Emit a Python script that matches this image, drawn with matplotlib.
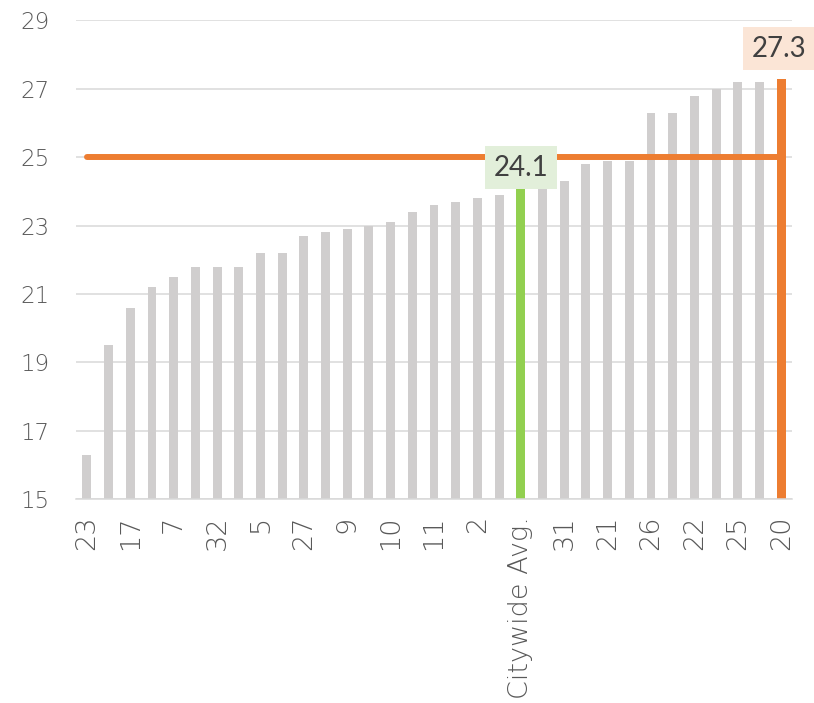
import matplotlib
matplotlib.use("Agg")
import matplotlib.pyplot as plt
import numpy as np

# district values, sorted ascending; Citywide Avg. sits at index 20, district 20 is last
values = [16.3, 19.5, 20.6, 21.2, 21.5, 21.8, 21.8, 21.8, 22.2, 22.2,
          22.7, 22.8, 22.9, 23.0, 23.1, 23.4, 23.6, 23.7, 23.8, 23.9,
          24.1, 24.2, 24.3, 24.8, 24.9, 24.9, 26.3, 26.3, 26.8, 27.0,
          27.2, 27.2, 27.3]
# only every other category label is shown in the original
tick_labels = ["23", "17", "7", "32", "5", "27", "9", "10", "11", "2",
               "Citywide Avg.", "31", "21", "26", "22", "25", "20"]
target = 25
avg_idx = 20
hl_idx = 32

GRAY = "#d0cece"
ORANGE = "#ed7d31"
GREEN = "#92d050"
TEXT = "#595959"

plt.rcParams["font.family"] = ["DejaVu Sans"]

fig = plt.figure(figsize=(8.14, 7.03), dpi=100)
ax = fig.add_axes([0.0934, 0.290, 0.8796, 0.681])

x = np.arange(len(values))
colors = [GRAY] * len(values)
colors[avg_idx] = GREEN
colors[hl_idx] = ORANGE
ax.bar(x, [v - 15 for v in values], bottom=15, width=0.41, color=colors, zorder=2)

ax.plot([0, len(values) - 1], [target, target], color=ORANGE, lw=4.3,
        solid_capstyle="round", zorder=3)

lbl_font = dict(family=["Lato", "DejaVu Sans"], fontsize=20, color="#404040")
ax.annotate(f"{values[avg_idx]:.1f}", xy=(avg_idx, values[avg_idx]),
            xytext=(0, 14.5), textcoords="offset points", ha="center", va="center",
            zorder=5, bbox=dict(boxstyle="square,pad=0.3", fc="#e2efda", ec="none"),
            **lbl_font)
ax.annotate(f"{values[hl_idx]:.1f}", xy=(hl_idx, values[hl_idx]),
            xytext=(-1.5, 21.5), textcoords="offset points", ha="center", va="center",
            zorder=5, annotation_clip=False,
            bbox=dict(boxstyle="square,pad=0.3", fc="#fbe5d6", ec="none"),
            **lbl_font)

ax.set_xlim(-0.5, len(values) - 0.5)
ax.set_ylim(15, 29)
ax.set_yticks(range(15, 30, 2))
ax.set_xticks(x[::2])
ax.set_xticklabels(tick_labels, rotation=90)
ax.tick_params(axis="both", length=0, colors=TEXT)
ax.tick_params(axis="y", pad=19, labelsize=16.5)
ax.tick_params(axis="x", pad=12, labelsize=19.5)
for t in ax.get_xticklabels() + ax.get_yticklabels():
    t.set_fontweight("light")

ax.grid(axis="y", color="#d9d9d9", lw=1.1, zorder=0)
for s in ["top", "right", "left"]:
    ax.spines[s].set_visible(False)
ax.spines["bottom"].set_color("#d9d9d9")
ax.spines["bottom"].set_linewidth(1.1)

fig.savefig("out.png", dpi=100)
